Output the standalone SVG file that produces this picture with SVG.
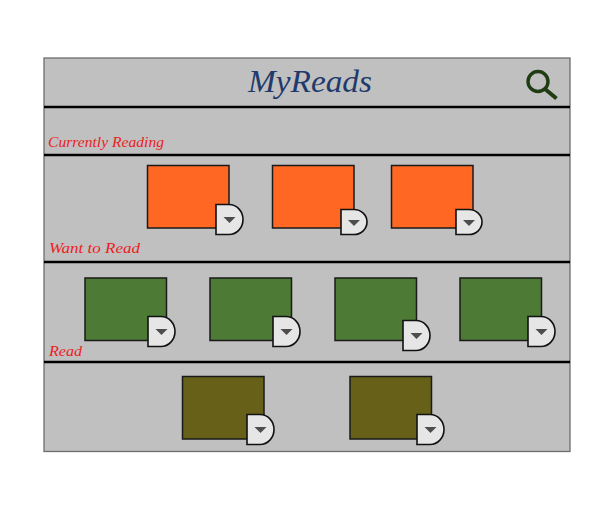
<svg xmlns="http://www.w3.org/2000/svg" width="613" height="518" viewBox="0 0 613 518">
<style>
.cover{stroke:#1a1a1a;stroke-width:1.5}
.orange{fill:#ff6723}
.green{fill:#4d7a35}
.olive{fill:#666019}
.btn{fill:#e6e6e6;stroke:#111;stroke-width:1.6}
.tri{fill:#4d4d4d}
.rule{stroke:#000;stroke-width:2.4;fill:none}
.shelf{font-family:"Liberation Serif",serif;font-style:italic;font-size:15px;fill:#ed1c24}
</style>
<defs>
<g id="btn"><path class="btn" d="M0 0H13A14 15 0 0 1 13 30H0Z"/><path class="tri" d="M7.500 12.500H19.500L13.500 18.500Z"/></g>
<g id="btn-small"><path class="btn" d="M0 0H13A13 12.500 0 0 1 13 25H0Z"/><path class="tri" d="M7 10.500H19L13 16.500Z"/></g>
</defs>
<g id="frame"><rect x="44" y="58" width="526" height="393.500" fill="#c0c0c0" stroke="#6e6e6e" stroke-width="1.3"/></g>
<g id="connectors">
<path class="rule" d="M44 107H570M44 155H570M44 262H570M44 362H570"/>
</g>
<g id="title"><text x="310" y="92" text-anchor="middle" textLength="124" lengthAdjust="spacingAndGlyphs" font-family="Liberation Serif,serif" font-style="italic" font-size="32" fill="#1f3a6b">MyReads</text></g>
<g id="search" fill="none" stroke="#1f3d12"><circle cx="538" cy="81.500" r="10" stroke-width="3.400"/><path d="M545 89L556.500 98.500" stroke-width="4"/></g>
<g id="label-currently"><text class="shelf" x="48" y="147" textLength="116" lengthAdjust="spacingAndGlyphs">Currently Reading</text></g>
<g id="label-want"><text class="shelf" x="49" y="253" textLength="91" lengthAdjust="spacingAndGlyphs">Want to Read</text></g>
<g id="label-read"><text class="shelf" x="49" y="356" textLength="33" lengthAdjust="spacingAndGlyphs">Read</text></g>
<g id="book-1"><rect class="cover orange" x="147.500" y="165.500" width="81.500" height="62.500"/><use href="#btn" x="216" y="204.500"/></g>
<g id="book-2"><rect class="cover orange" x="272.500" y="165.500" width="81.500" height="62.500"/><use href="#btn-small" x="341" y="209.500"/></g>
<g id="book-3"><rect class="cover orange" x="391.500" y="165.500" width="81.500" height="62.500"/><use href="#btn-small" x="456" y="209.500"/></g>
<g id="book-4"><rect class="cover green" x="85" y="278" width="81.500" height="62.500"/><use href="#btn" x="148" y="316.500"/></g>
<g id="book-5"><rect class="cover green" x="210" y="278" width="81.500" height="62.500"/><use href="#btn" x="273" y="316.500"/></g>
<g id="book-6"><rect class="cover green" x="335" y="278" width="81.500" height="62.500"/><use href="#btn" x="403" y="320.500"/></g>
<g id="book-7"><rect class="cover green" x="460" y="278" width="81.500" height="62.500"/><use href="#btn" x="528" y="316.500"/></g>
<g id="book-8"><rect class="cover olive" x="182.500" y="376.500" width="81.500" height="62.500"/><use href="#btn" x="247" y="414.500"/></g>
<g id="book-9"><rect class="cover olive" x="350" y="376.500" width="81.500" height="62.500"/><use href="#btn" x="417" y="414.500"/></g>
</svg>
